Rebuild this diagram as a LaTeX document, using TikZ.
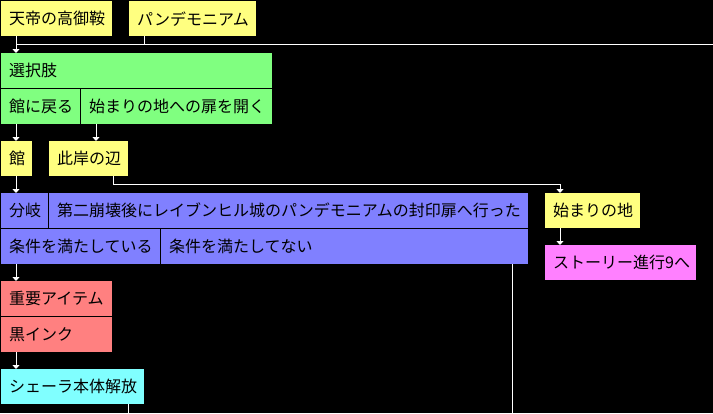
\documentclass[tikz,border=0pt]{standalone}
\usepackage{fontspec}
\setmainfont{Noto Sans CJK JP}
\usetikzlibrary{arrows.meta}
\definecolor{pyellow}{HTML}{FFFF80}
\definecolor{pgreen}{HTML}{80FF80}
\definecolor{pblue}{HTML}{8080FF}
\definecolor{pred}{HTML}{FF8080}
\definecolor{pcyan}{HTML}{80FFFF}
\definecolor{pmagenta}{HTML}{FF80FF}
\begin{document}
\begin{tikzpicture}[x=1pt,y=-1pt,
    cell/.style={anchor=north west, inner xsep=8pt, inner ysep=0pt, minimum height=35pt,
      align=left, font=\fontsize{16pt}{16pt}\selectfont, text=black},
    wire/.style={white, line width=1pt},
    link/.style={white, line width=1pt, -{Triangle[width=7pt,length=4pt]}}]
    \fill[black] (0,0) rectangle (713,413);
    \useasboundingbox (0,0) rectangle (713,413);

    % top row
    \node[cell, fill=pyellow, text width=95pt]  (emp)    at (1,1)     {天帝の高御鞍};
    \node[cell, fill=pyellow, text width=111pt] (pan)    at (129,1)   {パンデモニアム};

    % choice
    \node[cell, fill=pgreen, text width=255pt]  (sel)    at (1,53)    {選択肢};
    \node[cell, fill=pgreen, text width=63pt]   (back)   at (1,89)    {館に戻る};
    \node[cell, fill=pgreen, text width=175pt]  (open)   at (81,89)   {始まりの地への扉を開く};

    \node[cell, fill=pyellow, text width=15pt]  (yakata) at (1,141)   {館};
    \node[cell, fill=pyellow, text width=63pt]  (higan)  at (49,141)  {此岸の辺};

    % branch
    \node[cell, fill=pblue, text width=31pt]    (bunki)  at (1,193)   {分岐};
    \node[cell, fill=pblue, text width=463pt]   (cond)   at (49,193)  {第二崩壊後にレイブンヒル城のパンデモニアムの封印扉へ行った};
    \node[cell, fill=pblue, text width=143pt]   (yes)    at (1,229)   {条件を満たしている};
    \node[cell, fill=pblue, text width=351pt]   (no)     at (161,229) {条件を満たしてない};

    \node[cell, fill=pred, text width=95pt]     (item)   at (1,281)   {重要アイテム};
    \node[cell, fill=pred, text width=95pt]     (ink)    at (1,317)   {黒インク};
    \node[cell, fill=pcyan, text width=127pt]   (shera)  at (1,369)   {シェーラ本体解放};

    \node[cell, fill=pyellow, text width=79pt]  (start)  at (545,193) {始まりの地};
    \node[cell, fill=pmagenta, text width=135pt] (story) at (545,245) {ストーリー進行9へ};

    % connectors
    \coordinate (busend) at (713,44);
    \draw[wire] ([xshift=15pt]emp.south west) |- (busend);
    \draw[wire] ([xshift=15pt]pan.south west) -- ++(0,8);
    \draw[link] ([xshift=15pt]emp.south west) -- ([xshift=15pt]sel.north west);
    \draw[link] ([xshift=15pt]back.south west) -- ([xshift=15pt]yakata.north west);
    \draw[link] ([xshift=15pt]open.south west) -- ([xshift=47pt]higan.north west);
    \draw[link] ([xshift=15pt]yakata.south west) -- ([xshift=15pt]bunki.north west);
    \draw[link] ([xshift=64pt]higan.south west) -- ++(0,8) -| ([xshift=15pt]start.north west);
    \draw[link] ([xshift=15pt]start.south west) -- ([xshift=15pt]story.north west);
    \draw[link] ([xshift=15pt]yes.south west) -- ([xshift=15pt]item.north west);
    \draw[link] ([xshift=15pt]ink.south west) -- ([xshift=15pt]shera.north west);
    \draw[wire] ([xshift=127pt]shera.south west) -- ++(0,10);
    \draw[wire] ([xshift=351pt]no.south west) -- ++(0,150);
\end{tikzpicture}
\end{document}
